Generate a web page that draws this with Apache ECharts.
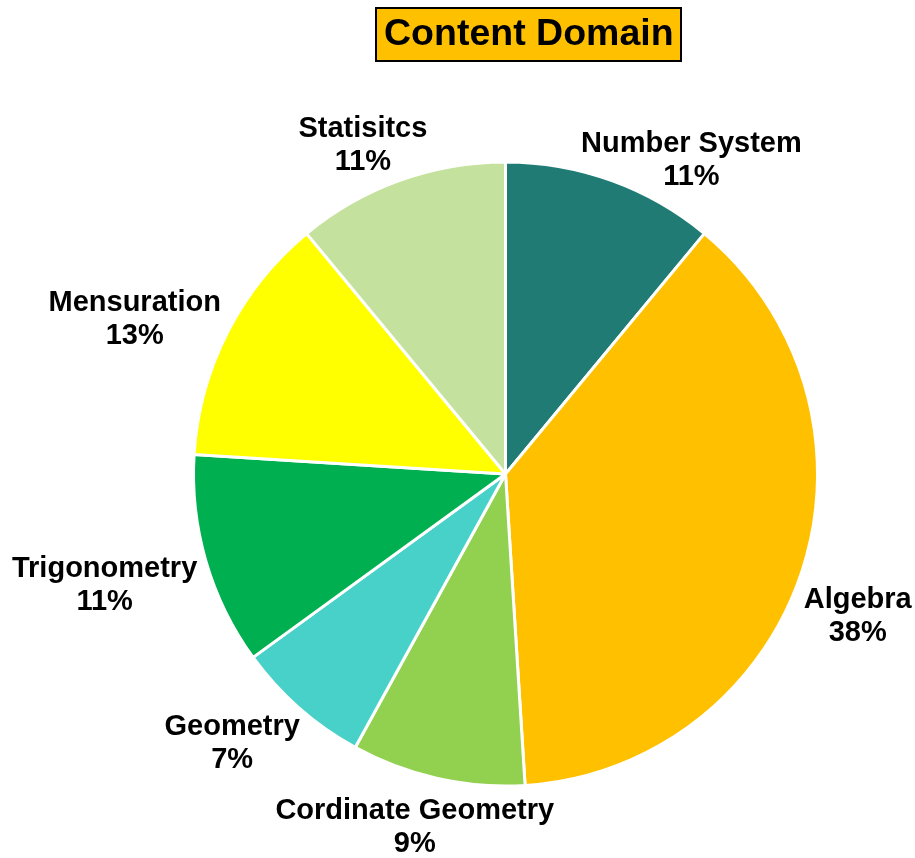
<!DOCTYPE html>
<html>
<head>
<meta charset="utf-8">
<script src="https://cdn.jsdelivr.net/npm/echarts@6/dist/echarts.min.js"></script>
<style>
html,body{margin:0;padding:0;background:#fff;}
#chart{width:915px;height:858px;}
</style>
</head>
<body>
<div id="chart"></div>
<script>
// ---- data ----
const categories = ["Number System", "Algebra", "Cordinate Geometry", "Geometry", "Trigonometry", "Mensuration", "Statisitcs"];
const values = [11, 38, 9, 7, 11, 13, 11];
const colors = ["#1F7B74", "#FFC000", "#92D050", "#48D1C8", "#00B050", "#FFFF00", "#C4E29D"];
const titleText = "Content Domain";

// ---- layout ----
const CX = 505.5, CY = 474, R = 312;
const FONT = "'Liberation Sans', Arial, sans-serif";
// fine label nudges (px) to mimic the original label placement
const labelNudge = [[57, 44], [-3, 27], [-9, -12], [-21, -17], [-7, -3], [-11, 29], [-19, 15]];

const total = values.reduce((a, b) => a + b, 0);
const cum = [];
values.reduce((acc, v, i) => { cum[i] = acc; return acc + v; }, 0);

const chart = echarts.init(document.getElementById('chart'), null, {renderer: 'canvas'});
chart.setOption({
  animation: false,
  backgroundColor: '#fff',
  title: {
    text: titleText,
    left: 376,
    top: 8,
    padding: [8, 8, 8, 8],
    backgroundColor: '#FFC000',
    borderColor: '#000',
    borderWidth: 2,
    textStyle: {fontFamily: FONT, fontWeight: 'bold', fontSize: 37.5, color: '#000', lineHeight: 37}
  },
  series: [{
    type: 'pie',
    center: [CX, CY],
    radius: [0, R],
    startAngle: 90,
    clockwise: true,
    avoidLabelOverlap: false,
    data: categories.map((c, i) => ({name: c, value: values[i], itemStyle: {color: colors[i]}})),
    itemStyle: {borderColor: '#fff', borderWidth: 3},
    label: {
      show: true,
      position: 'outside',
      formatter: '{b}\n{d}%',
      fontFamily: FONT,
      fontWeight: 'bold',
      fontSize: 29,
      lineHeight: 33,
      color: '#000'
    },
    labelLine: {show: false, length: 5, length2: 0},
    labelLayout: function (p) {
      const i = p.dataIndex;
      const mid = (cum[i] + values[i] / 2) / total * Math.PI * 2;
      const ux = Math.sin(mid), uy = -Math.cos(mid);
      const w = p.labelRect.width, h = p.labelRect.height;
      const d = R + Math.abs(ux) * w / 2 + Math.abs(uy) * h / 2;
      return {
        x: CX + ux * d + labelNudge[i][0],
        y: CY + uy * d + labelNudge[i][1],
        align: 'center',
        verticalAlign: 'middle'
      };
    },
    emphasis: {disabled: true}
  }]
});
</script>
</body>
</html>
